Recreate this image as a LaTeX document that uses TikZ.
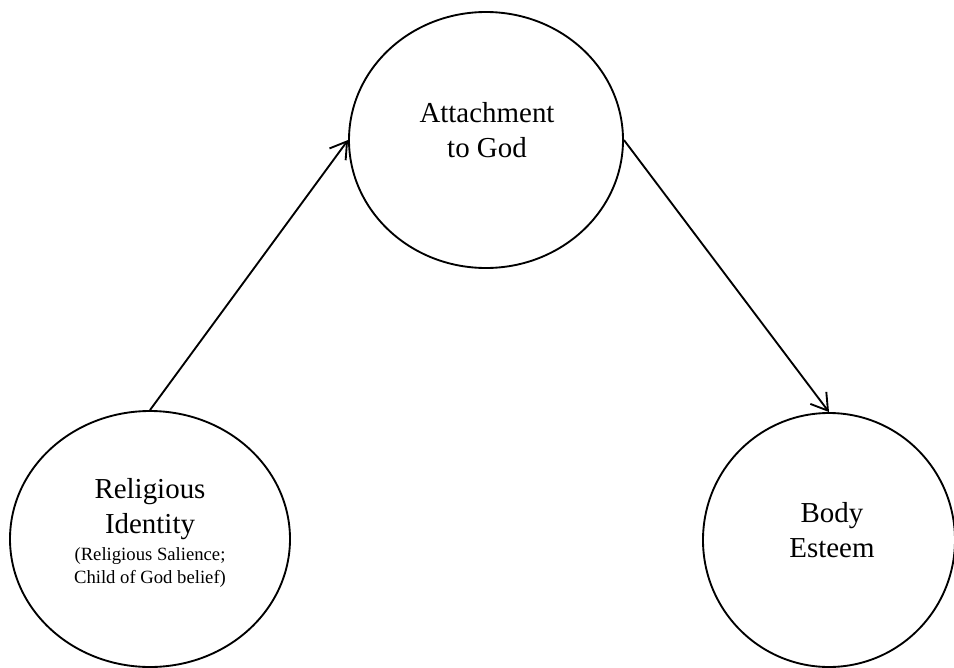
\documentclass[tikz,border=0pt]{standalone}
\usepackage{fontspec}
\setmainfont{Liberation Serif}
\usetikzlibrary{shapes.geometric,arrows.meta}
\begin{document}
\begin{tikzpicture}[x=0.75pt,y=-0.75pt,
  circ/.style={draw,ellipse,line width=1.4pt,inner sep=0pt},
  big/.style={font=\fontsize{21.7}{26}\selectfont,align=center,inner sep=0pt},
  small/.style={font=\fontsize{14}{17}\selectfont,align=center,inner sep=0pt},
  conn/.style={line width=1.4pt,-{Straight Barb[length=12pt,width=15pt,line width=1.4pt]}}]
\useasboundingbox (0,0) rectangle (954,668);
\node[circ,minimum width=205.5pt,minimum height=192pt] (att) at (486,140) {};
\node[circ,minimum width=210pt,minimum height=192pt] (rel) at (150,539) {};
\node[circ,minimum width=189pt,minimum height=190.5pt] (be) at (829,540) {};
\node[big,anchor=base] (t1) at (487,122) {Attachment};
\node[big,anchor=base] (t2) at (487,157) {to God};
\node[big,anchor=base] (t3) at (150,498) {Religious};
\node[big,anchor=base] (t4) at (150,533) {Identity};
\node[small,anchor=base] (t5) at (150,560) {(Religious Salience;};
\node[small,anchor=base] (t6) at (150,583) {Child of God belief)};
\node[big,anchor=base] (t7) at (832,522) {Body};
\node[big,anchor=base] (t8) at (832,557) {Esteem};
\draw[conn] (rel.north) -- (att.west);
\draw[conn] (att.east) -- (be.north);
\end{tikzpicture}
\end{document}
